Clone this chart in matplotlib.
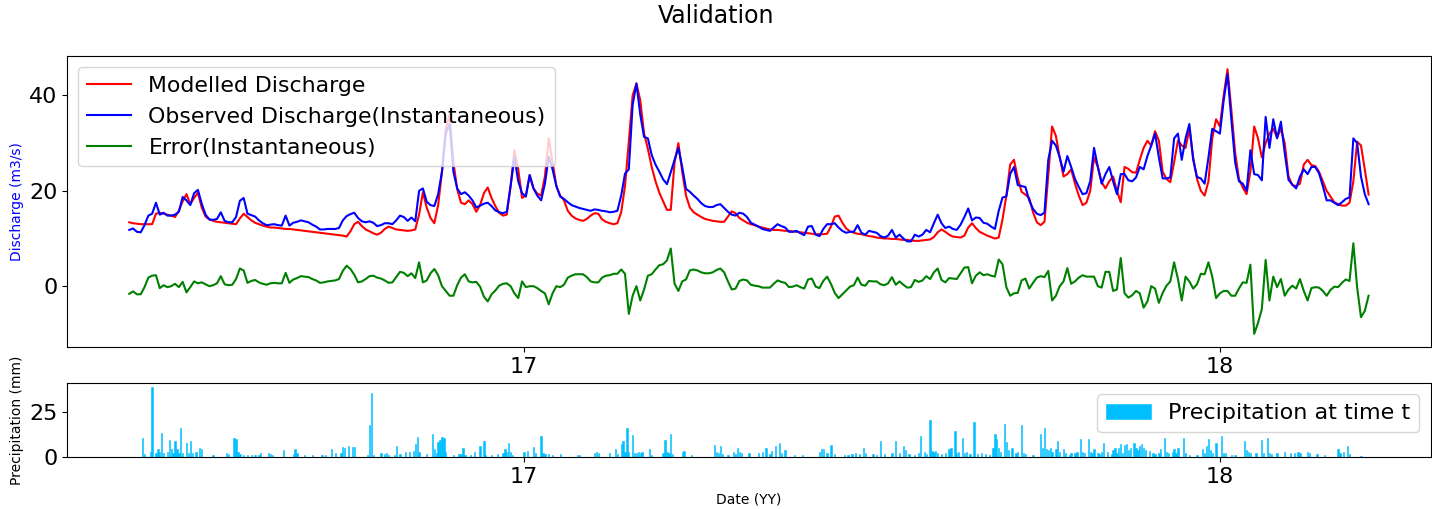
import numpy as np
import pandas as pd
import matplotlib
matplotlib.use("Agg")
import matplotlib.pyplot as plt
import matplotlib.dates as mdates

# discharge readings, one value every 2 days from 2016-06-08
start_date = "2016-06-08"

modelled = [
    13.4, 13.2, 13.1, 13.0, 13.0, 13.0, 13.0, 15.2, 15.4, 15.2,
    15.0, 14.8, 14.5, 15.8, 17.8, 19.3, 17.2, 18.5, 19.6, 16.5,
    14.6, 14.0, 13.7, 13.5, 13.4, 13.3, 13.2, 13.1, 13.0, 14.2,
    15.2, 14.5, 13.8, 13.3, 13.0, 12.7, 12.5, 12.3, 12.3, 12.2,
    12.1, 12.0, 12.0, 11.9, 11.8, 11.7, 11.6, 11.5, 11.4, 11.3,
    11.2, 11.1, 11.0, 10.9, 10.8, 10.7, 10.6, 10.4, 11.5, 13.0,
    13.5, 12.6, 11.9, 11.5, 11.1, 10.8, 11.2, 12.0, 12.5, 12.2,
    11.9, 11.8, 11.7, 11.6, 11.7, 11.9, 15.0, 19.7, 16.5, 14.3,
    13.2, 17.0, 24.0, 33.0, 36.0, 26.0, 20.3, 17.5, 17.2, 18.0,
    17.2, 15.6, 17.0, 19.5, 20.7, 18.5, 16.8, 15.4, 14.8, 15.0,
    21.0, 28.5, 24.5, 18.5, 19.0, 23.3, 20.5, 19.4, 19.0, 23.0,
    31.0, 26.0, 21.0, 19.0, 18.0, 15.8, 14.8, 14.2, 13.9, 13.7,
    14.1, 14.8, 15.3, 15.2, 14.0, 13.5, 13.2, 13.0, 13.2, 15.5,
    21.0, 30.3, 40.0, 42.5, 39.0, 32.0, 28.8, 25.0, 22.0, 19.6,
    17.8, 16.0, 16.0, 26.0, 30.0, 24.0, 19.0, 16.5, 15.5, 15.0,
    14.5, 14.1, 13.9, 13.7, 13.6, 13.5, 13.5, 14.6, 15.7, 15.3,
    14.3, 13.8, 13.3, 13.0, 12.8, 12.5, 12.3, 12.1, 11.9, 11.8,
    11.8, 11.7, 11.6, 11.6, 11.5, 11.4, 11.3, 11.2, 11.1, 11.0,
    10.9, 10.9, 10.9, 11.0, 12.5, 14.6, 14.8, 13.3, 12.1, 11.5,
    11.2, 11.0, 10.9, 10.7, 10.5, 10.4, 10.2, 10.1, 10.0, 10.0,
    9.9, 9.9, 9.8, 9.7, 9.7, 9.6, 9.5, 9.5, 9.6, 9.7,
    9.8, 10.3, 11.3, 11.9, 11.4, 10.8, 10.4, 10.3, 10.2, 10.6,
    12.3, 13.2, 12.2, 11.4, 11.0, 10.6, 10.3, 10.0, 10.2, 14.0,
    19.0, 25.5, 26.5, 22.6, 19.8, 19.2, 18.5, 15.5, 13.4, 12.8,
    13.5, 23.3, 33.5, 31.5, 27.0, 23.0, 23.5, 24.5, 21.5, 19.0,
    17.0, 17.5, 20.0, 27.0, 25.0, 21.8, 20.5, 22.0, 23.0, 20.0,
    17.6, 25.0, 24.6, 23.9, 23.8, 26.5, 29.0, 30.5, 29.5, 32.5,
    30.5, 24.0, 22.5, 21.8, 26.0, 30.5, 29.5, 29.0, 33.0, 27.0,
    22.5, 20.0, 19.0, 22.0, 31.0, 35.0, 33.5, 40.0, 45.5, 37.0,
    28.0, 22.5, 20.7, 19.3, 24.0, 33.5, 31.0, 27.0, 30.0, 32.0,
    33.0, 31.2, 33.0, 30.0, 23.0, 21.2, 21.0, 21.5, 25.5, 26.5,
    25.4, 25.2, 24.0, 22.0, 20.0, 18.8, 17.6, 17.2, 16.9, 16.9,
    17.5, 22.0, 30.3, 29.5, 24.5, 19.2,
]

observed = [
    11.8, 12.1, 11.4, 11.3, 12.8, 14.8, 15.2, 17.5, 15.0, 15.4,
    14.8, 14.8, 15.0, 15.6, 18.7, 18.0, 17.0, 19.5, 20.2, 17.3,
    15.0, 14.0, 13.9, 14.1, 15.5, 13.7, 13.4, 13.4, 14.5, 17.9,
    18.5, 15.2, 14.9, 14.6, 13.8, 13.2, 12.8, 12.9, 13.0, 12.8,
    12.7, 14.8, 12.7, 13.3, 13.5, 13.8, 13.6, 13.4, 12.9, 12.5,
    11.9, 11.9, 12.0, 12.0, 12.0, 12.2, 13.8, 14.7, 15.1, 15.4,
    14.3, 13.6, 13.4, 13.6, 13.3, 12.6, 12.8, 13.2, 13.2, 13.0,
    13.8, 14.8, 14.5, 13.7, 14.4, 13.6, 20.0, 20.5, 17.7, 17.0,
    16.8, 19.3, 24.0, 32.0, 34.0, 24.0, 20.5, 19.3, 19.7, 19.0,
    18.0, 16.5, 16.9, 17.3, 17.5, 16.8, 15.9, 15.5, 15.3, 15.6,
    21.0, 27.0, 22.0, 19.5, 18.8, 23.3, 20.5, 19.0, 18.0, 21.5,
    27.2, 24.5, 21.0, 18.8, 18.3, 17.6, 17.0, 16.7, 16.4, 16.2,
    16.0, 15.8, 16.1, 16.0, 15.8, 15.7, 15.5, 15.6, 15.8, 19.0,
    23.6, 24.5, 38.0, 42.5, 36.0, 31.3, 31.0, 27.5, 25.5, 24.0,
    22.4, 21.4, 23.9, 26.5, 29.0, 25.0, 20.4, 19.8, 19.0, 18.3,
    17.4, 16.8, 16.6, 16.6, 17.0, 17.2, 16.4, 15.6, 15.0, 14.8,
    15.4, 15.2, 14.5, 13.3, 12.9, 12.5, 12.0, 11.8, 11.6, 12.3,
    13.0, 12.6, 12.3, 11.4, 11.4, 11.6, 11.1, 10.7, 12.5, 12.6,
    10.8, 10.5, 12.0, 13.0, 13.0, 13.2, 12.3, 11.6, 11.2, 11.4,
    11.4, 12.8, 11.2, 10.8, 11.6, 11.4, 11.2, 10.5, 10.2, 10.6,
    11.8, 10.2, 10.8, 10.0, 9.4, 9.4, 10.8, 10.4, 10.8, 11.8,
    11.3, 13.2, 15.0, 13.2, 12.2, 12.5, 12.0, 11.8, 12.9, 14.5,
    16.3, 13.8, 14.4, 14.3, 13.3, 13.1, 12.5, 12.0, 15.8, 18.6,
    18.8, 23.5, 25.0, 21.2, 21.0, 20.8, 18.0, 16.2, 15.2, 14.9,
    15.4, 26.5, 30.5, 29.5, 27.0, 24.0, 27.3, 25.0, 22.5, 20.8,
    19.3, 19.5, 22.0, 29.0, 25.0, 21.5, 23.5, 25.0, 22.0, 19.3,
    23.5, 23.5, 22.2, 22.0, 22.8, 25.0, 24.5, 27.3, 29.5, 32.0,
    27.0, 22.6, 22.6, 22.8, 31.0, 32.0, 26.5, 31.0, 34.0, 26.5,
    22.9, 22.6, 21.5, 27.0, 33.0, 32.5, 32.0, 39.0, 44.5, 35.0,
    26.0, 22.0, 21.5, 20.0, 28.5, 23.5, 23.3, 22.2, 35.5, 29.0,
    35.0, 31.0, 34.5, 28.0, 22.3, 21.3, 20.5, 23.0, 24.5, 23.5,
    25.0, 25.0, 23.7, 21.0, 18.0, 18.0, 17.5, 17.0, 17.6, 18.3,
    18.6, 31.0, 30.0, 23.0, 19.3, 17.2,
]

# rainy days (days after start_date) and rainfall in mm
rain_day = [
    7, 8, 11, 12, 14, 15, 16, 17, 18, 20, 21, 22, 23, 24, 25, 26, 27, 28, 30, 31,
    32, 33, 35, 37, 38, 44, 51, 52, 55, 56, 57, 58, 60, 62, 64, 66, 68, 69, 73, 74,
    75, 81, 86, 87, 88, 92, 96, 101, 103, 106, 108, 111, 112, 113, 115, 117, 118, 125, 126, 127,
    128, 132, 134, 135, 136, 139, 140, 142, 145, 147, 149, 150, 151, 152, 156, 159, 160, 161, 162, 163,
    164, 165, 166, 170, 173, 174, 175, 176, 179, 181, 184, 186, 187, 190, 193, 196, 197, 198, 199, 200,
    201, 207, 209, 212, 213, 216, 217, 218, 220, 222, 226, 235, 236, 244, 245, 246, 252, 255, 256, 258,
    259, 260, 261, 262, 264, 265, 266, 267, 268, 269, 273, 274, 280, 281, 282, 283, 284, 285, 290, 291,
    295, 307, 308, 309, 310, 311, 314, 317, 318, 319, 320, 321, 325, 330, 332, 334, 336, 337, 339, 341,
    342, 344, 349, 353, 362, 363, 364, 366, 368, 370, 375, 377, 379, 381, 383, 385, 386, 390, 392, 394,
    396, 400, 402, 404, 406, 407, 409, 412, 414, 415, 417, 418, 420, 421, 422, 423, 424, 426, 428, 430,
    431, 433, 434, 435, 437, 438, 439, 441, 443, 445, 447, 449, 451, 453, 454, 455, 456, 457, 459, 460,
    461, 463, 465, 466, 468, 469, 470, 474, 478, 479, 480, 481, 482, 483, 484, 486, 487, 488, 490, 491,
    493, 494, 496, 497, 499, 500, 501, 503, 504, 505, 506, 508, 509, 510, 511, 513, 515, 516, 517, 518,
    519, 520, 521, 522, 523, 524, 525, 527, 528, 529, 530, 531, 532, 533, 535, 537, 538, 540, 541, 543,
    544, 545, 547, 548, 549, 550, 553, 554, 556, 560, 563, 564, 565, 566, 567, 568, 570, 573, 574, 575,
    578, 580, 585, 586, 587, 588, 591, 594, 595, 597, 598, 599, 602, 606, 609, 611, 613, 614, 618, 619,
    623, 627, 634, 635, 637, 639, 640, 646,
]
rain_mm = [
    10.4, 1.5, 3.0, 38.9, 2.0, 4.3, 3.0, 13.1, 2.0, 3.0, 9.6, 4.3, 2.5, 8.9, 4.3, 2.5, 16.3, 2.0, 7.8, 2.0,
    8.9, 2.5, 3.0, 4.8, 4.5, 1.1, 2.2, 1.5, 10.4, 10.0, 2.8, 1.5, 1.0, 1.0, 1.0, 1.0, 1.2, 2.2, 2.2, 1.5,
    1.0, 4.1, 1.5, 4.4, 2.0, 1.0, 1.0, 1.0, 1.0, 4.3, 2.0, 2.5, 5.6, 5.0, 6.1, 5.6, 5.6, 1.0, 17.8, 35.6,
    1.0, 2.5, 1.5, 2.0, 1.0, 1.0, 6.1, 1.5, 2.8, 3.0, 3.5, 7.0, 11.1, 3.0, 1.5, 12.6, 4.3, 2.5, 8.3, 9.6,
    11.1, 10.7, 3.0, 1.0, 1.5, 1.5, 4.8, 1.0, 1.0, 2.8, 6.3, 8.9, 1.0, 1.0, 1.5, 2.0, 4.3, 3.0, 7.8, 3.0,
    1.0, 2.8, 3.5, 5.6, 2.0, 11.7, 2.5, 1.5, 1.5, 1.0, 1.5, 1.0, 1.0, 2.5, 3.0, 2.0, 2.2, 4.3, 1.5, 7.0,
    8.9, 3.0, 16.3, 3.0, 12.2, 2.5, 2.5, 3.0, 2.5, 3.0, 4.3, 1.0, 2.0, 9.6, 3.0, 2.0, 13.0, 1.5, 2.8, 3.3,
    1.0, 6.7, 3.0, 2.0, 6.1, 1.5, 1.0, 2.8, 1.5, 5.2, 3.0, 2.0, 2.5, 2.0, 3.0, 5.2, 1.5, 3.5, 6.1, 8.0,
    2.0, 4.0, 1.0, 1.0, 3.0, 4.3, 4.3, 2.0, 6.7, 1.5, 1.2, 1.0, 1.5, 2.0, 1.5, 5.2, 2.0, 1.5, 1.0, 8.9,
    1.5, 2.0, 8.9, 2.0, 5.9, 4.0, 1.5, 1.0, 2.5, 11.7, 3.0, 1.5, 20.4, 3.5, 3.0, 3.5, 2.5, 1.5, 2.0, 4.3,
    5.2, 14.4, 2.0, 3.0, 10.4, 2.5, 3.0, 1.5, 19.3, 1.5, 2.0, 1.5, 1.0, 5.0, 12.6, 9.8, 5.0, 3.0, 18.5, 8.3,
    4.0, 5.0, 2.0, 3.0, 17.8, 2.0, 1.5, 1.0, 12.6, 5.0, 16.3, 4.3, 4.0, 5.0, 3.0, 4.3, 8.9, 3.0, 4.3, 2.0,
    1.0, 2.5, 2.5, 3.0, 9.8, 3.0, 2.0, 9.8, 3.0, 2.5, 4.3, 2.0, 1.5, 3.0, 8.0, 2.8, 1.5, 3.7, 5.0, 2.0,
    5.0, 7.0, 2.0, 6.5, 7.0, 4.0, 5.0, 8.0, 5.0, 4.0, 6.0, 7.0, 5.0, 4.0, 3.5, 2.0, 1.5, 2.5, 4.3, 10.7,
    3.0, 2.0, 3.0, 4.3, 2.0, 5.0, 10.7, 2.5, 1.0, 1.0, 4.3, 2.0, 6.1, 9.8, 4.0, 2.0, 8.0, 11.7, 2.0, 2.0,
    1.0, 1.0, 8.9, 4.0, 3.0, 2.0, 2.5, 9.3, 2.0, 10.7, 2.5, 1.5, 2.0, 3.0, 2.0, 2.5, 3.0, 2.0, 3.0, 2.0,
    1.5, 1.0, 4.3, 2.0, 3.0, 6.1, 1.5, 0.8,
]

dates = pd.date_range(start_date, periods=len(observed), freq="2D")
error = np.array(observed) - np.array(modelled)
rain_dates = pd.Timestamp(start_date) + pd.to_timedelta(rain_day, unit="D")

fig, (ax1, ax2) = plt.subplots(2, 1, figsize=(14.32, 5.09), dpi=100, sharex=True,
                               gridspec_kw={"height_ratios": [291, 74]})
fig.subplots_adjust(left=0.047, right=0.999, top=0.89, bottom=0.102, hspace=0.197)

ax1.plot(dates, modelled, "r", linewidth=1.5, label="Modelled Discharge")
ax1.plot(dates, observed, "b", linewidth=1.5, label="Observed Discharge(Instantaneous)")
ax1.plot(dates, error, "g", linewidth=1.5, label="Error(Instantaneous)")
ax1.set_ylabel("Discharge (m3/s)", color="blue", fontsize=10)
ax1.set_yticks([0, 20, 40])
ax1.tick_params(labelsize=16, labelbottom=True)
ax1.legend(loc="upper left", fontsize=15.8)

# thin daily bars, edge in the same colour so none of them drop out
ax2.bar(rain_dates, rain_mm, width=0.7, color="deepskyblue", edgecolor="deepskyblue",
        linewidth=0.4, label="Precipitation at time t")
ax2.set_ylabel("Precipitation (mm)", fontsize=10)
ax2.set_xlabel("Date (YY)", fontsize=10)
ax2.set_yticks([0, 25])
ax2.tick_params(labelsize=16)
ax2.legend(loc="upper right", fontsize=16)

ax2.xaxis.set_major_locator(mdates.YearLocator())
ax2.xaxis.set_major_formatter(mdates.DateFormatter("%y"))

fig.suptitle("Validation", fontsize=17, y=0.993)
plt.savefig("out.png")
